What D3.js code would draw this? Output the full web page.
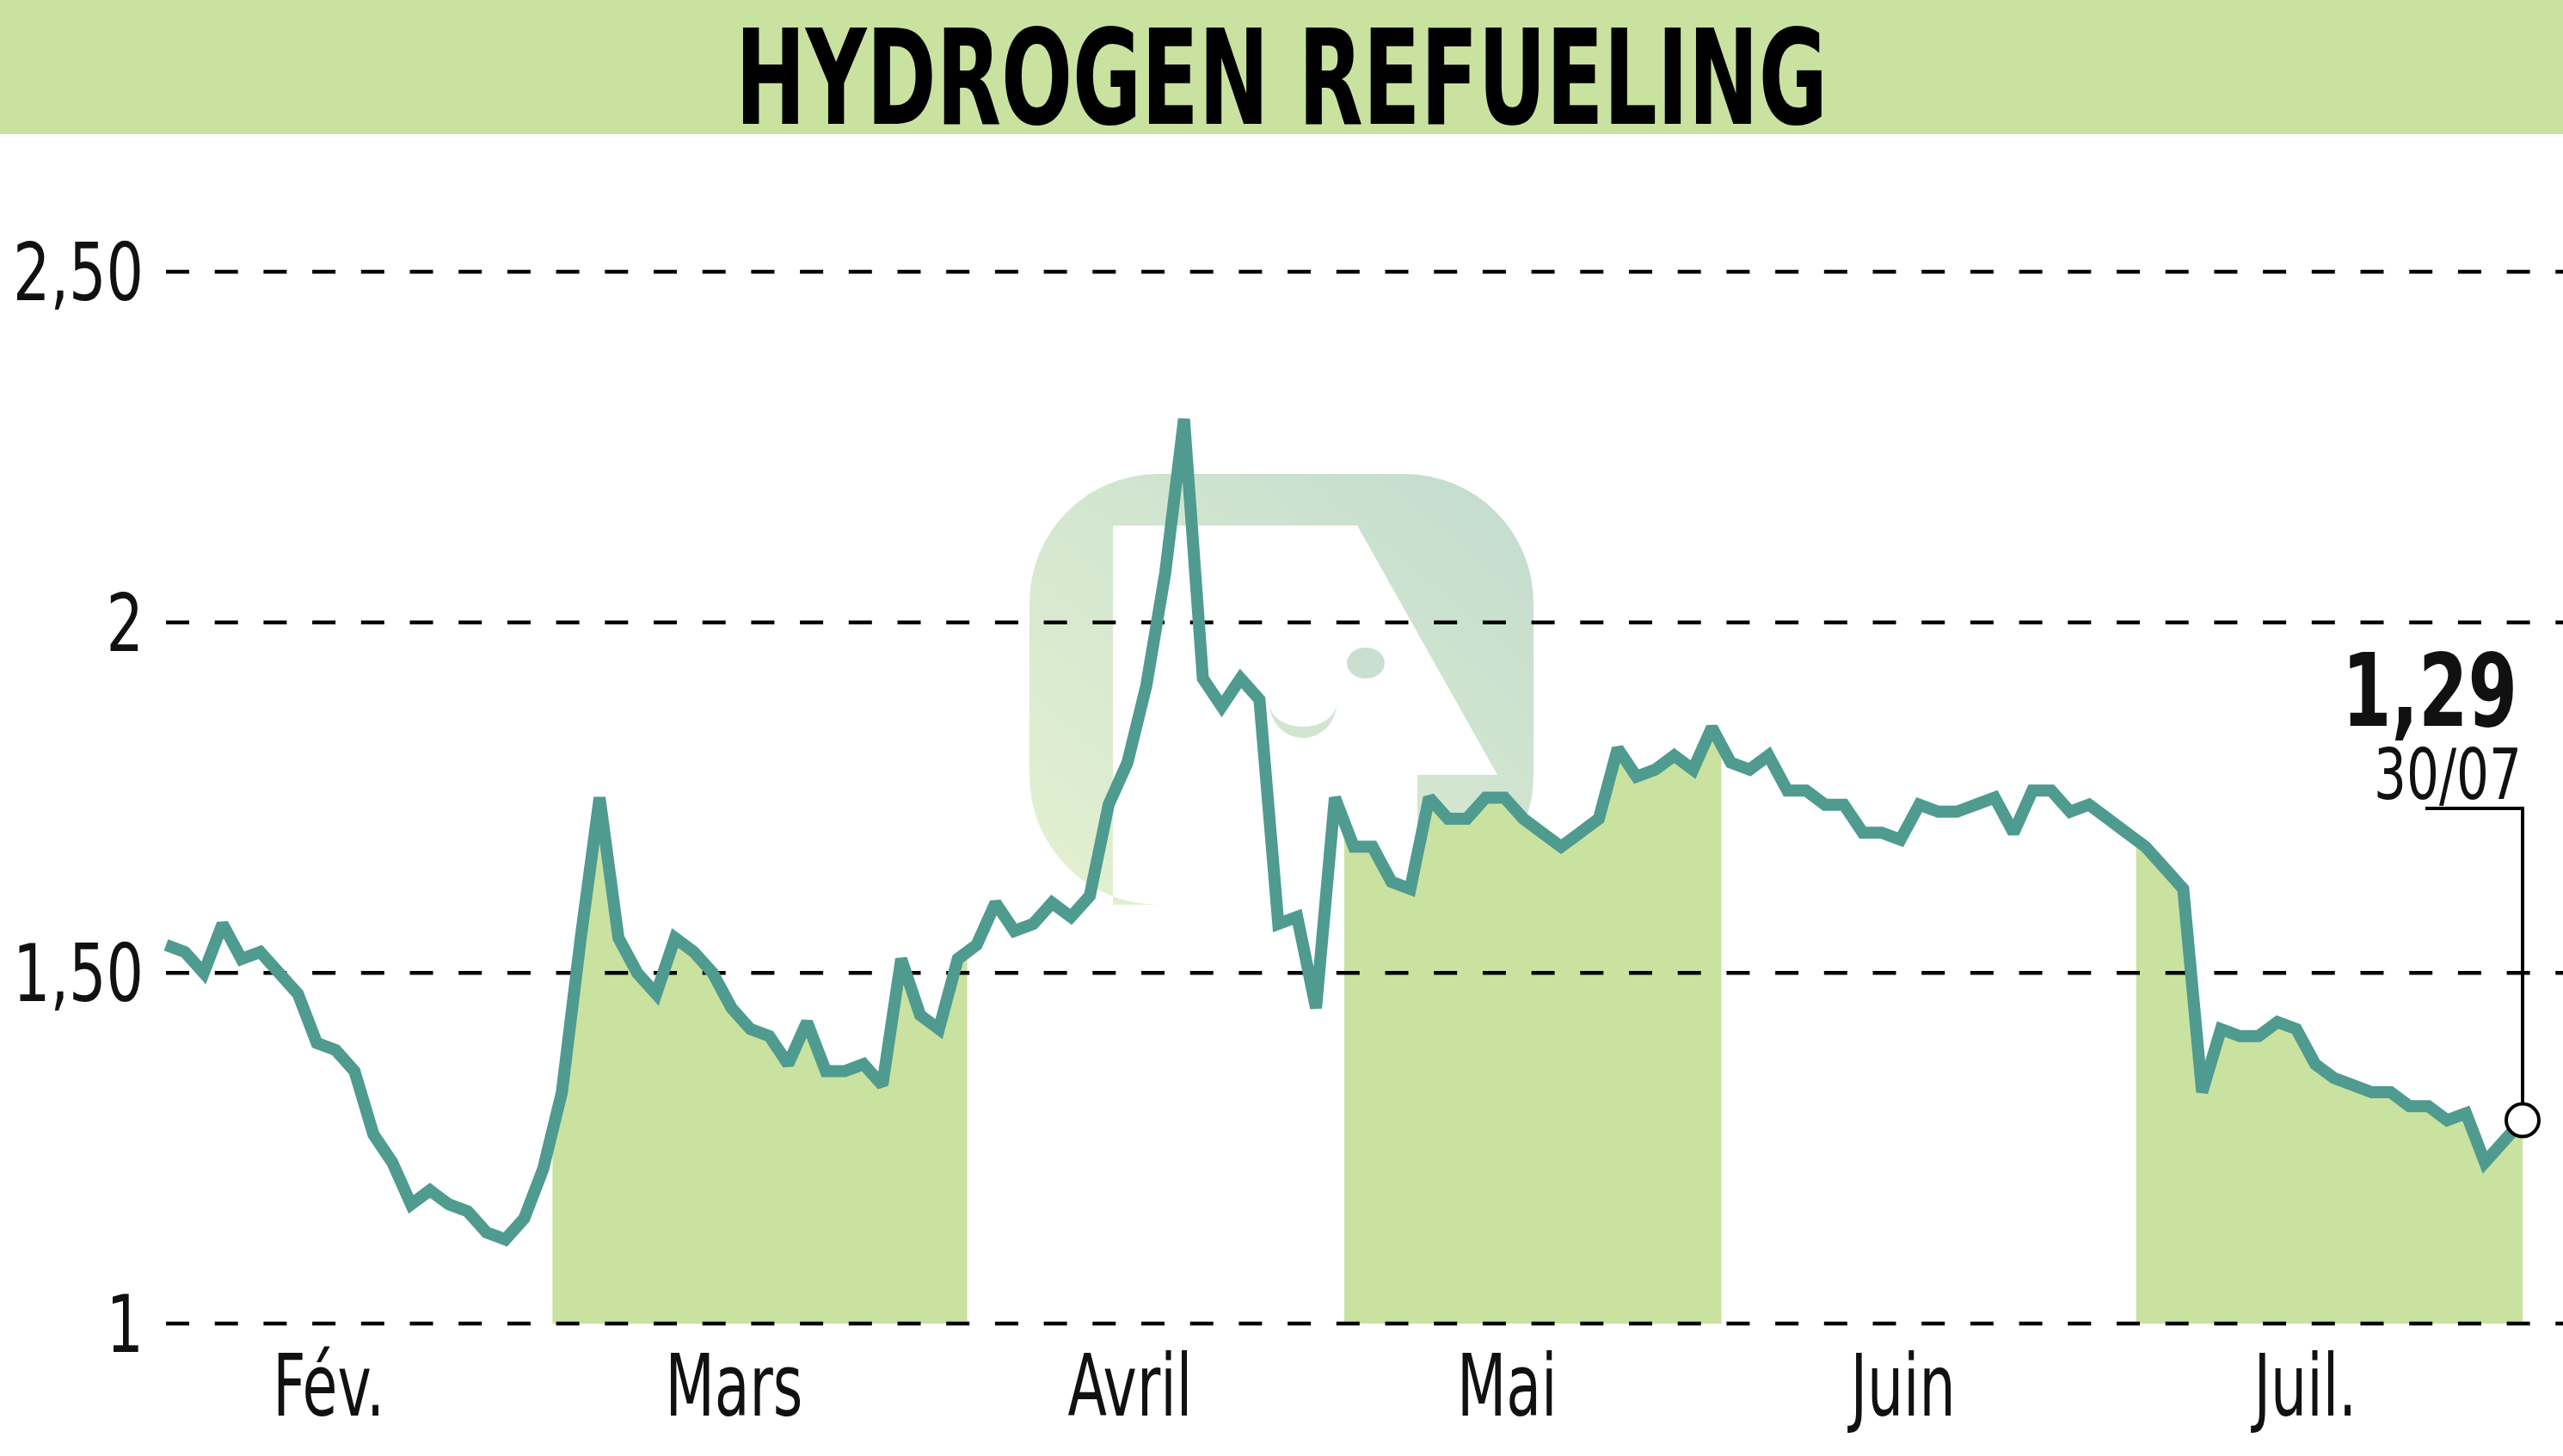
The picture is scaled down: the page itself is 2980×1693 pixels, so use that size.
<!DOCTYPE html>
<html>
<head>
<meta charset="utf-8">
<script src="https://cdn.jsdelivr.net/npm/d3@7"></script>
<style>
    html, body { margin: 0; padding: 0; background: #fff; }
    svg { display: block; }
    text { font-family: "Liberation Sans Narrow", "DejaVu Sans Condensed", "Arial Narrow", sans-serif; }
</style>
</head>
<body>
<script>
// ---- data ----
let title = "HYDROGEN REFUELING";
let months = ["Fév.", "Mars", "Avril", "Mai", "Juin", "Juil."];
let monthDays = [21, 22, 20, 20, 22, 21];
let shadedMonths = ["Mars", "Mai", "Juil."];

let prices = [
    // Fév.
    1.54, 1.53, 1.50, 1.57, 1.52, 1.53, 1.50, 1.47, 1.40, 1.39, 1.36,
    1.27, 1.23, 1.17, 1.19, 1.17, 1.16, 1.13, 1.12, 1.15, 1.22,
    // Mars
    1.33, 1.55, 1.75, 1.55, 1.50, 1.47, 1.55, 1.53, 1.50, 1.45, 1.42,
    1.41, 1.37, 1.43, 1.36, 1.36, 1.37, 1.34, 1.52, 1.44, 1.42, 1.52,
    // Avril
    1.54, 1.60, 1.56, 1.57, 1.60, 1.58, 1.61, 1.74, 1.80, 1.91,
    2.07, 2.29, 1.92, 1.88, 1.92, 1.89, 1.57, 1.58, 1.45, 1.75,
    // Mai
    1.68, 1.68, 1.63, 1.62, 1.75, 1.72, 1.72, 1.75, 1.75, 1.72,
    1.70, 1.68, 1.70, 1.72, 1.82, 1.78, 1.79, 1.81, 1.79, 1.85,
    // Juin
    1.80, 1.79, 1.81, 1.76, 1.76, 1.74, 1.74, 1.70, 1.70, 1.69, 1.74,
    1.73, 1.73, 1.74, 1.75, 1.70, 1.76, 1.76, 1.73, 1.74, 1.72, 1.70,
    // Juil.
    1.68, 1.65, 1.62, 1.33, 1.42, 1.41, 1.41, 1.43, 1.42, 1.37, 1.35,
    1.34, 1.33, 1.33, 1.31, 1.31, 1.29, 1.30, 1.23, 1.26, 1.29
];

let yTicks = [1, 1.5, 2, 2.5];
let yTickLabels = ["1", "1,50", "2", "2,50"];
let lastLabel = "1,29";
let lastDate = "30/07";

// ---- layout ----
let width = 2980;
let height = 1693;
let lineColor = "#4f9b90";
let green = "#c9e2a0";

let svg = d3.select("body")
    .append("svg")
    .attr("width", width)
    .attr("height", height);

let n = prices.length;
let x = d3.scaleLinear()
    .domain([0, n - 1])
    .range([193, 2933]);
let y = d3.scaleLinear()
    .domain([1, 2.5])
    .range([1539, 316]);

// month start index
let starts = [];
let acc = 0;
monthDays.forEach(function (d) {
    starts.push(acc);
    acc += d;
});
let bands = months.map(function (m, i) {
    let x0 = x(starts[i] - 0.5);
    let x1 = x(starts[i] + monthDays[i] - 0.5);
    if (i === months.length - 1) x1 = x(n - 1) + 4;
    return {name: m, x0: x0, x1: x1};
});

// condensed look: squeeze text horizontally so a sample string gets a given width
function squeezeFactor(sample, size, weight, target) {
    let t = svg.append("text")
        .attr("font-size", size)
        .attr("font-weight", weight)
        .text(sample);
    let w = t.node().getComputedTextLength();
    t.remove();
    return target / w;
}

let defs = svg.append("defs");

// title band
svg.append("rect")
    .attr("x", 0)
    .attr("y", 0)
    .attr("width", width)
    .attr("height", 156)
    .attr("fill", green);
svg.append("text")
    .attr("x", width / 2)
    .attr("y", 144)
    .attr("text-anchor", "middle")
    .attr("font-weight", "bold")
    .attr("font-size", 153)
    .attr("textLength", 1270)
    .attr("lengthAdjust", "spacingAndGlyphs")
    .attr("fill", "#000")
    .text(title);

// faint logo in the background
let grad = defs.append("linearGradient")
    .attr("id", "logoGrad")
    .attr("x1", 0).attr("y1", 1)
    .attr("x2", 1).attr("y2", 0);
grad.append("stop").attr("offset", "0%").attr("stop-color", "#e4f1d0");
grad.append("stop").attr("offset", "100%").attr("stop-color", "#c3dccf");

let logo = svg.append("g").attr("class", "logo");
let lx0 = 1197, lx1 = 1783, ly0 = 551, ly1 = 1052, lr = 150;
let outer = "M" + (lx0 + lr) + "," + ly0 +
    " H" + (lx1 - lr) + " A" + lr + "," + lr + " 0 0 1 " + lx1 + "," + (ly0 + lr) +
    " V" + (ly1 - lr) + " A" + lr + "," + lr + " 0 0 1 " + (lx1 - lr) + "," + ly1 +
    " H" + (lx0 + lr) + " A" + lr + "," + lr + " 0 0 1 " + lx0 + "," + (ly1 - lr) +
    " V" + (ly0 + lr) + " A" + lr + "," + lr + " 0 0 1 " + (lx0 + lr) + "," + ly0 + " Z";
let inner = " M1294,611 L1578,611 L1741,901 L1648,901 L1648,1052 L1294,1052 Z";
logo.append("path")
    .attr("d", outer + inner)
    .attr("fill-rule", "evenodd")
    .attr("fill", "url(#logoGrad)");
logo.append("ellipse")
    .attr("cx", 1588).attr("cy", 771)
    .attr("rx", 22).attr("ry", 18)
    .attr("fill", "#c9dfcf");
logo.append("path")
    .attr("d", "M1476,818 A39,40 0 0 0 1554,818 A39,27 0 0 1 1476,818 Z")
    .attr("fill", "#d2e5d0");

// shaded months: area under the line, clipped to each month
let area = d3.area()
    .x(function (d, i) { return x(i); })
    .y0(y(1))
    .y1(function (d) { return y(d); });

bands.forEach(function (b, i) {
    if (shadedMonths.indexOf(b.name) < 0) return;
    defs.append("clipPath")
        .attr("id", "clip" + i)
        .append("rect")
        .attr("x", b.x0)
        .attr("y", 0)
        .attr("width", b.x1 - b.x0)
        .attr("height", height);
    svg.append("path")
        .datum(prices)
        .attr("clip-path", "url(#clip" + i + ")")
        .attr("fill", green)
        .attr("d", area);
});

// dashed grid
svg.append("g")
    .selectAll("line")
    .data(yTicks)
    .enter()
    .append("line")
    .attr("x1", 193)
    .attr("x2", width)
    .attr("y1", function (d) { return y(d); })
    .attr("y2", function (d) { return y(d); })
    .attr("stroke", "#000")
    .attr("stroke-width", 4.5)
    .attr("stroke-dasharray", "27,29.7");

// y labels
let ky = squeezeFactor("2,50", 92, "normal", 152);
svg.append("g")
    .selectAll("text")
    .data(yTicks)
    .enter()
    .append("text")
    .attr("transform", function (d) {
        return "translate(167," + (y(d) + 33) + ") scale(" + ky + ",1)";
    })
    .attr("text-anchor", "end")
    .attr("font-size", 92)
    .attr("fill", "#111")
    .text(function (d, i) { return yTickLabels[i]; });

// month labels
let kx = squeezeFactor("Mars", 99, "normal", 160);
svg.append("g")
    .selectAll("text")
    .data(bands)
    .enter()
    .append("text")
    .attr("transform", function (d) {
        return "translate(" + ((d.x0 + d.x1) / 2 - 30) + ",1646) scale(" + kx + ",1)";
    })
    .attr("text-anchor", "middle")
    .attr("font-size", 99)
    .attr("fill", "#111")
    .text(function (d) { return d.name; });

// price line
let line = d3.line()
    .x(function (d, i) { return x(i); })
    .y(function (d) { return y(d); });
svg.append("path")
    .datum(prices)
    .attr("fill", "none")
    .attr("stroke", lineColor)
    .attr("stroke-width", 14)
    .attr("stroke-linejoin", "miter")
    .attr("stroke-miterlimit", 2)
    .attr("d", line);

// last value marker
let cx = x(n - 1);
let cy = y(prices[n - 1]);
svg.append("path")
    .attr("d", "M2820,940 H" + cx + " V" + (cy - 19))
    .attr("fill", "none")
    .attr("stroke", "#000")
    .attr("stroke-width", 4);
svg.append("circle")
    .attr("cx", cx)
    .attr("cy", cy)
    .attr("r", 19)
    .attr("fill", "#fff")
    .attr("stroke", "#000")
    .attr("stroke-width", 4);

let kv = squeezeFactor(lastLabel, 118, "bold", 204);
svg.append("text")
    .attr("transform", "translate(2927,844) scale(" + kv + ",1)")
    .attr("text-anchor", "end")
    .attr("font-weight", "bold")
    .attr("font-size", 118)
    .attr("fill", "#111")
    .text(lastLabel);
let kd = squeezeFactor(lastDate, 82, "normal", 172);
svg.append("text")
    .attr("transform", "translate(2932,929) scale(" + kd + ",1)")
    .attr("text-anchor", "end")
    .attr("font-size", 82)
    .attr("fill", "#111")
    .text(lastDate);
</script>
</body>
</html>
